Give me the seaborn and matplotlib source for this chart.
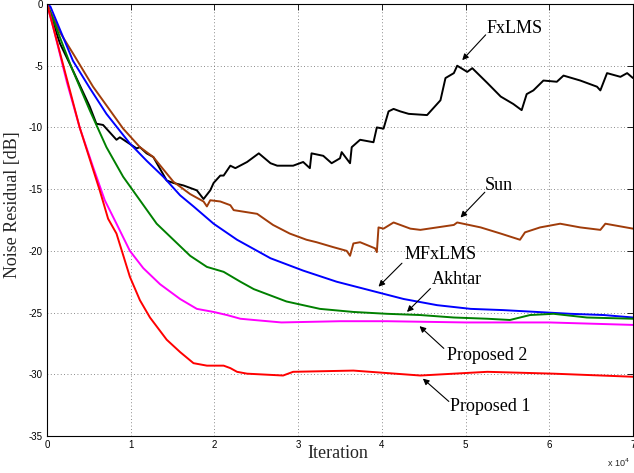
import numpy as np
import pandas as pd
import matplotlib
matplotlib.use("Agg")
import matplotlib.pyplot as plt
import seaborn as sns

# ---- data (x in units of 1e4 iterations, y in dB) ----
fx_x = [0, 0.155, 0.29, 0.51, 0.59, 0.67, 0.83, 0.87, 1.07, 1.11, 1.19, 1.27, 1.43, 1.51, 1.63, 1.79,
        1.87, 1.95, 1.99, 2.07, 2.11, 2.19, 2.25, 2.39, 2.53, 2.67, 2.75, 2.94, 3.06, 3.14, 3.16, 3.30,
        3.40, 3.50, 3.52, 3.62, 3.64, 3.74, 3.90, 3.94, 4.02, 4.08, 4.14, 4.22, 4.32, 4.54, 4.70, 4.76,
        4.86, 4.90, 5.02, 5.08, 5.26, 5.42, 5.57, 5.67, 5.73, 5.81, 5.93, 6.09, 6.17, 6.37, 6.57, 6.61,
        6.69, 6.85, 6.93, 7.0]
fx_y = [0, -3.2, -5.1, -8.3, -9.7, -9.8, -11.0, -10.8, -11.7, -11.6, -12.1, -12.4, -14.3, -14.5, -14.7, -15.1,
        -15.8, -15.1, -14.5, -13.9, -13.9, -13.1, -13.3, -12.8, -12.1, -12.9, -13.1, -13.1, -12.8, -13.3, -12.1, -12.3,
        -12.9, -12.5, -12.0, -12.9, -11.6, -11.0, -11.2, -10.0, -10.1, -8.7, -8.5, -8.7, -8.9, -9.0, -7.8, -6.0,
        -5.6, -5.0, -5.5, -5.2, -6.4, -7.5, -8.1, -8.6, -7.3, -7.0, -6.2, -6.3, -5.8, -6.2, -6.7, -7.0,
        -5.6, -5.9, -5.6, -6.0]

sun_x = [0, 0.155, 0.31, 0.55, 0.91, 1.11, 1.27, 1.51, 1.59, 1.71, 1.87, 1.91, 1.95, 2.07, 2.19, 2.23,
         2.51, 2.70, 2.90, 3.10, 3.22, 3.42, 3.58, 3.62, 3.66, 3.74, 3.92, 3.94, 3.96, 4.02, 4.14, 4.22,
         4.34, 4.46, 4.86, 4.90, 5.18, 5.42, 5.65, 5.71, 5.89, 6.13, 6.37, 6.61, 6.67, 7.0]
sun_y = [0, -2.3, -4.0, -6.7, -10.1, -11.6, -12.4, -14.4, -14.8, -15.4, -16.0, -16.4, -15.9, -16.0, -16.3, -16.7,
         -17.0, -17.9, -18.6, -19.1, -19.3, -19.7, -20.0, -20.4, -19.4, -19.3, -19.8, -20.1, -18.1, -18.2, -17.7, -17.9,
         -18.2, -18.3, -17.9, -17.7, -18.1, -18.6, -19.1, -18.5, -18.1, -17.8, -18.1, -18.3, -17.8, -18.2]

mfx_x = [0, 0.04, 0.31, 0.51, 0.71, 0.99, 1.19, 1.39, 1.59, 1.75, 1.99, 2.27, 2.67, 3.06, 3.46, 3.86,
         4.26, 4.66, 5.06, 5.45, 5.85, 6.25, 6.65, 7.0]
mfx_y = [0, -0.2, -4.6, -6.8, -8.9, -11.3, -12.7, -14.0, -15.5, -16.4, -17.8, -19.1, -20.6, -21.6, -22.5, -23.2,
         -23.9, -24.4, -24.7, -24.8, -24.95, -25.1, -25.2, -25.4]

akh_x = [0, 0.075, 0.29, 0.51, 0.71, 0.91, 1.11, 1.31, 1.51, 1.71, 1.91, 2.11, 2.31, 2.47, 2.86, 3.26,
         3.66, 4.06, 4.46, 4.86, 5.26, 5.53, 5.77, 6.05, 6.45, 7.0]
akh_y = [0, -1.3, -5.1, -8.6, -11.6, -14.0, -15.9, -17.8, -19.1, -20.4, -21.3, -21.7, -22.5, -23.1, -24.1, -24.7,
         -24.95, -25.1, -25.2, -25.4, -25.5, -25.6, -25.2, -25.1, -25.4, -25.5]

p2_x = [0, 0.075, 0.24, 0.39, 0.55, 0.69, 0.83, 0.99, 1.15, 1.35, 1.59, 1.79, 1.99, 2.15, 2.31, 2.47,
        2.8, 3.5, 4.06, 5.0, 6.0, 7.0]
p2_y = [0, -1.9, -6.4, -10.0, -13.2, -15.9, -17.8, -20.0, -21.4, -22.7, -23.9, -24.7, -24.95, -25.2, -25.5, -25.6,
        -25.8, -25.7, -25.7, -25.8, -25.8, -26.0]

p1_x = [0, 0.075, 0.39, 0.63, 0.73, 0.83, 0.99, 1.11, 1.23, 1.43, 1.59, 1.75, 1.91, 2.11, 2.19, 2.27,
        2.39, 2.82, 2.94, 3.66, 4.46, 5.26, 6.05, 7.0]
p1_y = [0, -1.9, -10.0, -15.1, -17.4, -18.6, -22.1, -24.0, -25.4, -27.2, -28.2, -29.1, -29.3, -29.3, -29.5, -29.8,
        -29.95, -30.1, -29.8, -29.7, -30.1, -29.8, -29.95, -30.2]

methods = ["FxLMS", "Sun", "MFxLMS", "Akhtar", "Proposed 2", "Proposed 1"]
colors = ["#000000", "#A03C0A", "#0000FF", "#008000", "#FF00FF", "#FF0000"]
series_x = [fx_x, sun_x, mfx_x, akh_x, p2_x, p1_x]
series_y = [fx_y, sun_y, mfx_y, akh_y, p2_y, p1_y]

# annotation: label, text center, arrow tail, arrow tip (x in 1e4 units)
ann_labels = ["FxLMS", "Sun", "MFxLMS", "Akhtar", "Proposed 2", "Proposed 1"]
ann_text = [(5.58, -1.96), (5.40, -14.7), (4.70, -20.3), (4.90, -22.3), (5.26, -28.5), (5.30, -32.6)]
ann_tail = [(5.24, -2.5), (5.23, -15.25), (4.24, -21.0), (4.58, -23.05), (4.74, -27.9), (4.80, -32.2)]
ann_tip = [(4.96, -4.55), (4.94, -17.3), (3.96, -22.9), (4.30, -24.95), (4.45, -26.1), (4.49, -30.35)]

xticks = [0, 1, 2, 3, 4, 5, 6, 7]
yticks = [0, -5, -10, -15, -20, -25, -30, -35]

# ---- build table ----
rows = []
for m, xs, ys in zip(methods, series_x, series_y):
    for i, (a, b) in enumerate(zip(xs, ys)):
        rows.append({"x": a * 1e4, "y": b, "method": m, "order": i})
df = pd.DataFrame(rows)

sns.set_theme(style="white")
plt.rcParams["font.family"] = ["Liberation Serif", "DejaVu Serif"]
plt.rcParams["axes.unicode_minus"] = False

fig = plt.figure(figsize=(6.34, 4.73), dpi=100)
ax = fig.add_axes([47 / 634, 1 - 436 / 473, 586 / 634, 432 / 473])

sns.lineplot(data=df, x="x", y="y", hue="method", hue_order=methods,
             palette=dict(zip(methods, colors)), estimator=None, sort=False,
             legend=False, linewidth=1.4, ax=ax)

ax.set_xlim(0, 7e4)
ax.set_ylim(-35, 0)
ax.set_xticks([t * 1e4 for t in xticks])
ax.set_xticklabels([str(t) for t in xticks], family="Liberation Sans", fontsize=7)
ax.set_yticks(yticks)
ax.set_yticklabels([str(t) for t in yticks], family="Liberation Sans", fontsize=7)
ax.tick_params(direction="in", length=4, width=0.6, top=True, right=True, pad=3, colors="black")
ax.grid(True, linestyle=(0, (1, 3)), color="#666666", linewidth=0.6)
for s in ax.spines.values():
    s.set_color("black")
    s.set_linewidth(0.8)

ax.set_xlabel("Iteration", fontsize=13)
ax.set_ylabel("Noise Residual [dB]", fontsize=13)
ax.xaxis.set_label_coords(0.497, -0.02)
ax.yaxis.set_label_coords(-0.045, 0.535)

fig.text(0.976, 1 - 463 / 473, "x 10$^4$", ha="center", va="center", fontsize=6.5,
         family="Liberation Sans")

for lab, tc, tl, tp in zip(ann_labels, ann_text, ann_tail, ann_tip):
    ax.text(tc[0] * 1e4, tc[1], lab, ha="center", va="center", fontsize=13, color="black")
    ax.annotate("", xy=(tp[0] * 1e4, tp[1]), xytext=(tl[0] * 1e4, tl[1]),
                arrowprops=dict(arrowstyle="-|>", color="black", lw=0.8,
                                mutation_scale=9, shrinkA=0, shrinkB=0))

fig.savefig("out.png", dpi=100)
